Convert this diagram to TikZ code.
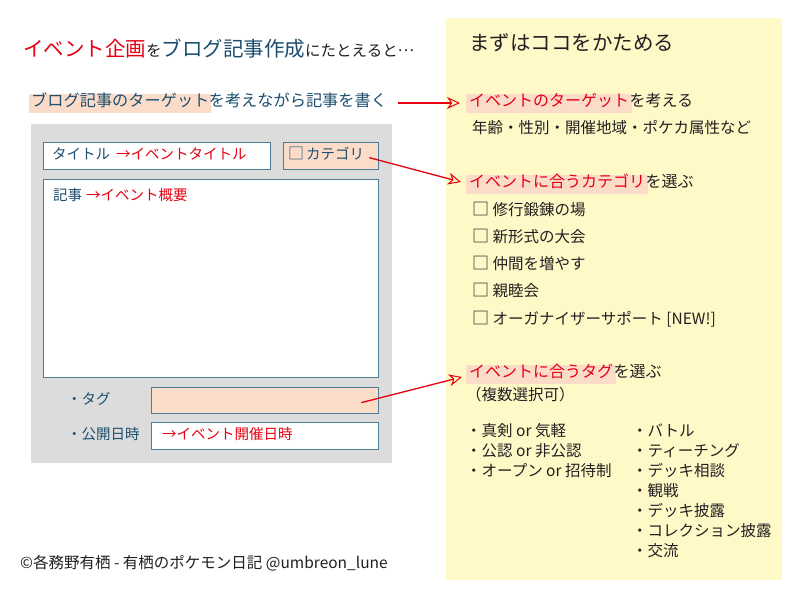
\documentclass[tikz,border=0pt]{standalone}
\usepackage{fontspec}
\setmainfont{Noto Sans CJK JP}
\usetikzlibrary{positioning, arrows.meta}

\definecolor{hlred}{HTML}{E60012}
\definecolor{blogblue}{HTML}{1D4E6E}
\definecolor{fieldblue}{HTML}{4C7D97}
\definecolor{hlpeach}{HTML}{FBDCC9}
\definecolor{formgrey}{HTML}{DCDCDC}
\definecolor{notebg}{HTML}{FFF9C8}
\definecolor{inkblack}{HTML}{231F20}

\newcommand\bigjp{\fontsize{20.5}{24}\selectfont}
\newcommand\midjp{\fontsize{16}{19}\selectfont}
\newcommand\smalljp{\fontsize{15.5}{18}\selectfont}
\newcommand\formjp{\fontsize{14.5}{17}\selectfont}
\newcommand\jpdots{\raisebox{0.3em}{…}}

\begin{document}
\begin{tikzpicture}[
        x=1pt, y=-1pt,
        every node/.style={inner sep=0pt, text=inkblack, font=\smalljp, text height=0.88em, text depth=0.12em},
        txt/.style={anchor=west},
        hl/.style={fill=hlpeach, inner xsep=3pt, inner ysep=4.5pt, anchor=west, text=hlred, font=\midjp},
        field/.style={draw=fieldblue, line width=1.3pt, fill=white, anchor=north west},
        formtxt/.style={anchor=west, text=blogblue, font=\formjp},
        pointer/.style={draw=hlred, line width=1.3pt, -{Stealth[open, length=13pt, width=12pt, inset=4pt, line width=1pt]}}
    ]

    \useasboundingbox (0,0) rectangle (800,600);
    \fill[white] (0,0) rectangle (800,600);

    % Backgrounds
    \node[fill=notebg, minimum width=336pt, minimum height=562pt, anchor=north west] (note) at (446,18) {};
    \node[fill=formgrey, minimum width=361pt, minimum height=339pt, anchor=north west] (form) at (31,124) {};

    % Heading and lead line
    \node[anchor=base west] (heading) at (23,56) {{\bigjp\color{hlred}イベント企画}{\smalljp を}{\bigjp\color{blogblue}ブログ記事作成}{\smalljp にたとえると\jpdots}};
    \node[hl, text=blogblue, font=\fontsize{16.2}{19}\selectfont, inner xsep=2pt] (blogtarget) at (29,103) {ブログ記事のターゲット};
    \node[txt, text=blogblue, font=\fontsize{16.2}{19}\selectfont, right=-3pt of blogtarget] (blogwrite) {を考えながら記事を書く};

    % Blog form
    \node[field, minimum width=227pt, minimum height=27pt] (titlefield) at (43,142) {};
    \node[field, fill=hlpeach, minimum width=95pt, minimum height=27pt] (catfield) at (283,142) {};
    \node[field, minimum width=335pt, minimum height=198pt] (bodyfield) at (43,179) {};
    \node[field, fill=hlpeach, minimum width=227pt, minimum height=26pt] (tagfield) at (151,387) {};
    \node[field, minimum width=227pt, minimum height=27pt] (datefield) at (151,422) {};

    \node[formtxt, right=9pt of titlefield.west] (titlelbl) {タイトル\hspace{6pt}{\color{hlred}→イベントタイトル}};
    \node[formtxt, right=5pt of catfield.west] (catlbl) {\scalebox{1.1}{□}\hspace{2pt}カテゴリ};
    \node[formtxt, anchor=north west, below right=12.5pt and 10pt of bodyfield.north west] (bodylbl) {記事\hspace{4pt}{\color{hlred}→イベント概要}};
    \node[formtxt] (taglbl) at (67,401) {・タグ};
    \node[formtxt] (datelbl) at (67,436) {・公開日時};
    \node[formtxt, text=hlred, right=11pt of datefield.west] (datetxt) {→イベント開催日時};

    % Right column
    \node[txt, font=\bigjp] (firststep) at (469,47) {まずはココをかためる};

    \node[hl] (evtarget) at (466,103) {イベントのターゲット};
    \node[txt, font=\midjp, right=-3pt of evtarget] (evtargetrest) {を考える};
    \node[txt] (attrs) at (472,130) {年齢・性別・開催地域・ポケカ属性など};

    \node[hl] (evcat) at (466,184) {イベントに合うカテゴリ};
    \node[txt, font=\midjp, right=-3pt of evcat] (evcatrest) {を選ぶ};
    \node[txt] (cat1) at (472,212) {\scalebox{1.1}{□} 修行鍛錬の場};
    \node[txt] (cat2) at (472,239) {\scalebox{1.1}{□} 新形式の大会};
    \node[txt] (cat3) at (472,266) {\scalebox{1.1}{□} 仲間を増やす};
    \node[txt] (cat4) at (472,293) {\scalebox{1.1}{□} 親睦会};
    \node[txt] (cat5) at (472,321) {\scalebox{1.1}{□} オーガナイザーサポート [NEW!]};

    \node[hl] (evtag) at (466,374) {イベントに合うタグ};
    \node[txt, font=\midjp, right=-3pt of evtag] (evtagrest) {を選ぶ};
    \node[txt] (multi) at (466,397) {（複数選択可）};

    % Tags, left column
    \node[txt] (tagA1) at (466,433) {・真剣 or 気軽};
    \node[txt] (tagA2) at (466,453) {・公認 or 非公認};
    \node[txt] (tagA3) at (466,473) {・オープン or 招待制};

    % Tags, right column
    \node[txt] (tagB1) at (632,433) {・バトル};
    \node[txt] (tagB2) at (632,453) {・ティーチング};
    \node[txt] (tagB3) at (632,473) {・デッキ相談};
    \node[txt] (tagB4) at (632,493) {・観戦};
    \node[txt] (tagB5) at (632,513) {・デッキ披露};
    \node[txt] (tagB6) at (632,533) {・コレクション披露};
    \node[txt] (tagB7) at (632,553) {・交流};

    % Credit
    \node[txt] (credit) at (20,565) {©各務野有栖 - 有栖のポケモン日記 @umbreon\_lune};

    % Pointers
    \draw[pointer] ([xshift=11pt]blogwrite.east) -- ([xshift=-6pt]evtarget.west);
    \draw[pointer] ([xshift=-10pt, yshift=-1.5pt]catfield.east) -- ([xshift=-5pt, yshift=2pt]evcat.west);
    \draw[pointer] ([xshift=-18pt, yshift=-2pt]tagfield.east) -- ([xshift=-4pt, yshift=-3pt]evtag.west);

\end{tikzpicture}
\end{document}
